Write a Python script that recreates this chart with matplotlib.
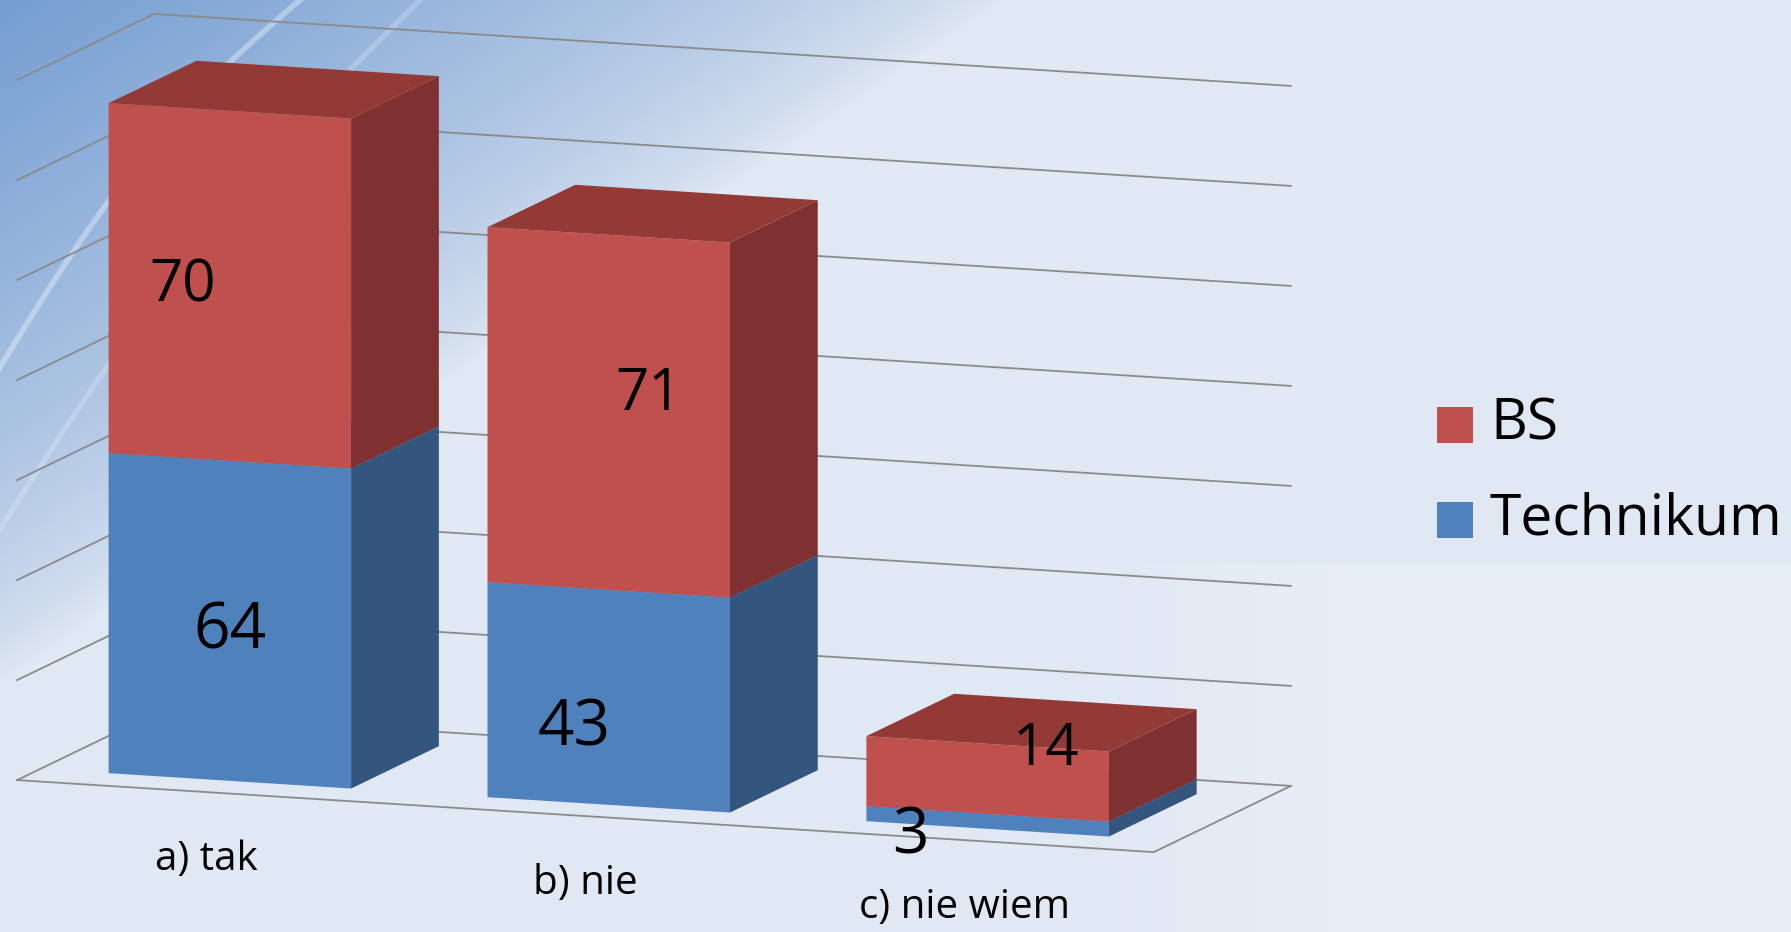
import numpy as np
import matplotlib
matplotlib.use("Agg")
import matplotlib.pyplot as plt
from matplotlib.patches import Polygon, Rectangle

categories = ["a) tak", "b) nie", "c) nie wiem"]
technikum = [64, 43, 3]
bs = [70, 71, 14]
series_names = ["BS", "Technikum"]
grid_values = [0, 20, 40, 60, 80, 100, 120, 140]

# label nudges in pixels (the original has hand placed labels)
tech_nudge = [(0, -11), (-35, -31), (-77, -15)]
bs_nudge = [(-47, 0), (40, 18), (58, 29)]

W, H = 1791, 932
plt.rcParams['font.family'] = ['Open Sans', 'DejaVu Sans']

# oblique projection: category, value, depth -> pixel
O = np.array([17.1, 780.1])
EX = np.array([378.9, 24.0])
EZ = np.array([137.1, -66.2])
EY = np.array([0.0, -5.0])


def proj(c, v, z):
    p = O + c * EX + v * EY + z * EZ
    return (p[0], p[1])


fig = plt.figure(figsize=(W / 100, H / 100), dpi=100)
ax = fig.add_axes([0, 0, 1, 1])
ax.set_xlim(0, W)
ax.set_ylim(H, 0)
ax.axis('off')

# background gradient
yy, xx = np.mgrid[0:H, 0:W]
d = xx / 1000 + yy / 680
w = np.clip(1 - d, 0, 1) ** 0.7
dark = np.array([0.46, 0.62, 0.82])
light = np.array([0.88, 0.91, 0.955])
img = light[None, None, :] * (1 - w[..., None]) + dark[None, None, :] * w[..., None]
fade = np.clip((xx - 1100) / 250, 0, 1) * (yy > 563)
img = img * (1 - 0.55 * fade[..., None]) + np.array([0.94, 0.955, 0.98]) * 0.55 * fade[..., None]
ax.imshow(img, extent=[0, W, H, 0], zorder=0)

# faint light streaks in the backdrop
for x_top, y_left, alpha in [(300, 400, 0.35), (420, 560, 0.2)]:
    t = np.linspace(0, 1, 100)
    sx = x_top * (1 - t) - 20 * t
    sy = y_left * t - 40 * np.sin(np.pi * t)
    ax.plot(sx, sy, color='white', lw=4, alpha=alpha, zorder=0.5)

ncat = len(categories)
grid_col = "#8a8a8a"
for v in grid_values:
    pts = [proj(0, v, 0), proj(0, v, 1), proj(ncat, v, 1)]
    ax.plot([p[0] for p in pts], [p[1] for p in pts], color=grid_col, lw=1.3, zorder=1)
floor = [proj(0, 0, 0), proj(ncat, 0, 0), proj(ncat, 0, 1)]
ax.plot([p[0] for p in floor], [p[1] for p in floor], color=grid_col, lw=1.3, zorder=1)

colors = {
    "Technikum": ("#4f81bd", "#34557d", "#3d6799"),
    "BS": ("#c0504d", "#7e3130", "#933a37"),
}

x0off, x1off = 0.18, 0.82
z0, z1 = 0.17, 0.81


def draw_segment(c, lo, hi, cols, zo):
    front, side, top = cols
    a, b = c + x0off, c + x1off
    ax.add_patch(Polygon([proj(a, lo, z0), proj(b, lo, z0), proj(b, hi, z0), proj(a, hi, z0)],
                         closed=True, fc=front, ec='none', zorder=zo))
    ax.add_patch(Polygon([proj(b, lo, z0), proj(b, lo, z1), proj(b, hi, z1), proj(b, hi, z0)],
                         closed=True, fc=side, ec='none', zorder=zo))
    ax.add_patch(Polygon([proj(a, hi, z0), proj(b, hi, z0), proj(b, hi, z1), proj(a, hi, z1)],
                         closed=True, fc=top, ec='none', zorder=zo))


for i in range(ncat):
    t, s = technikum[i], bs[i]
    draw_segment(i, 0, t, colors["Technikum"], 2)
    draw_segment(i, t, t + s, colors["BS"], 3)

    cx = i + 0.5
    ax.annotate(str(t), xy=proj(cx, t / 2, z0), xytext=tech_nudge[i], textcoords='offset pixels',
                ha='center', va='center', fontsize=46, color='black', zorder=5)
    ax.annotate(str(s), xy=proj(cx, t + s / 2, z0), xytext=bs_nudge[i], textcoords='offset pixels',
                ha='center', va='center', fontsize=42, color='black', zorder=5)

    lx, ly = proj(cx, 0, 0)
    ax.text(lx, ly + 68, categories[i], ha='center', va='center', fontsize=29, color='black', zorder=5)

# legend
leg_y = [425, 520]
for name, y in zip(series_names, leg_y):
    ax.add_patch(Rectangle((1437, y - 18), 36, 36, fc=colors[name][0], ec='none', zorder=5))
    ax.text(1490, y, name, ha='left', va='center', fontsize=41, color='black', zorder=5)

fig.savefig("out.png", dpi=100)
